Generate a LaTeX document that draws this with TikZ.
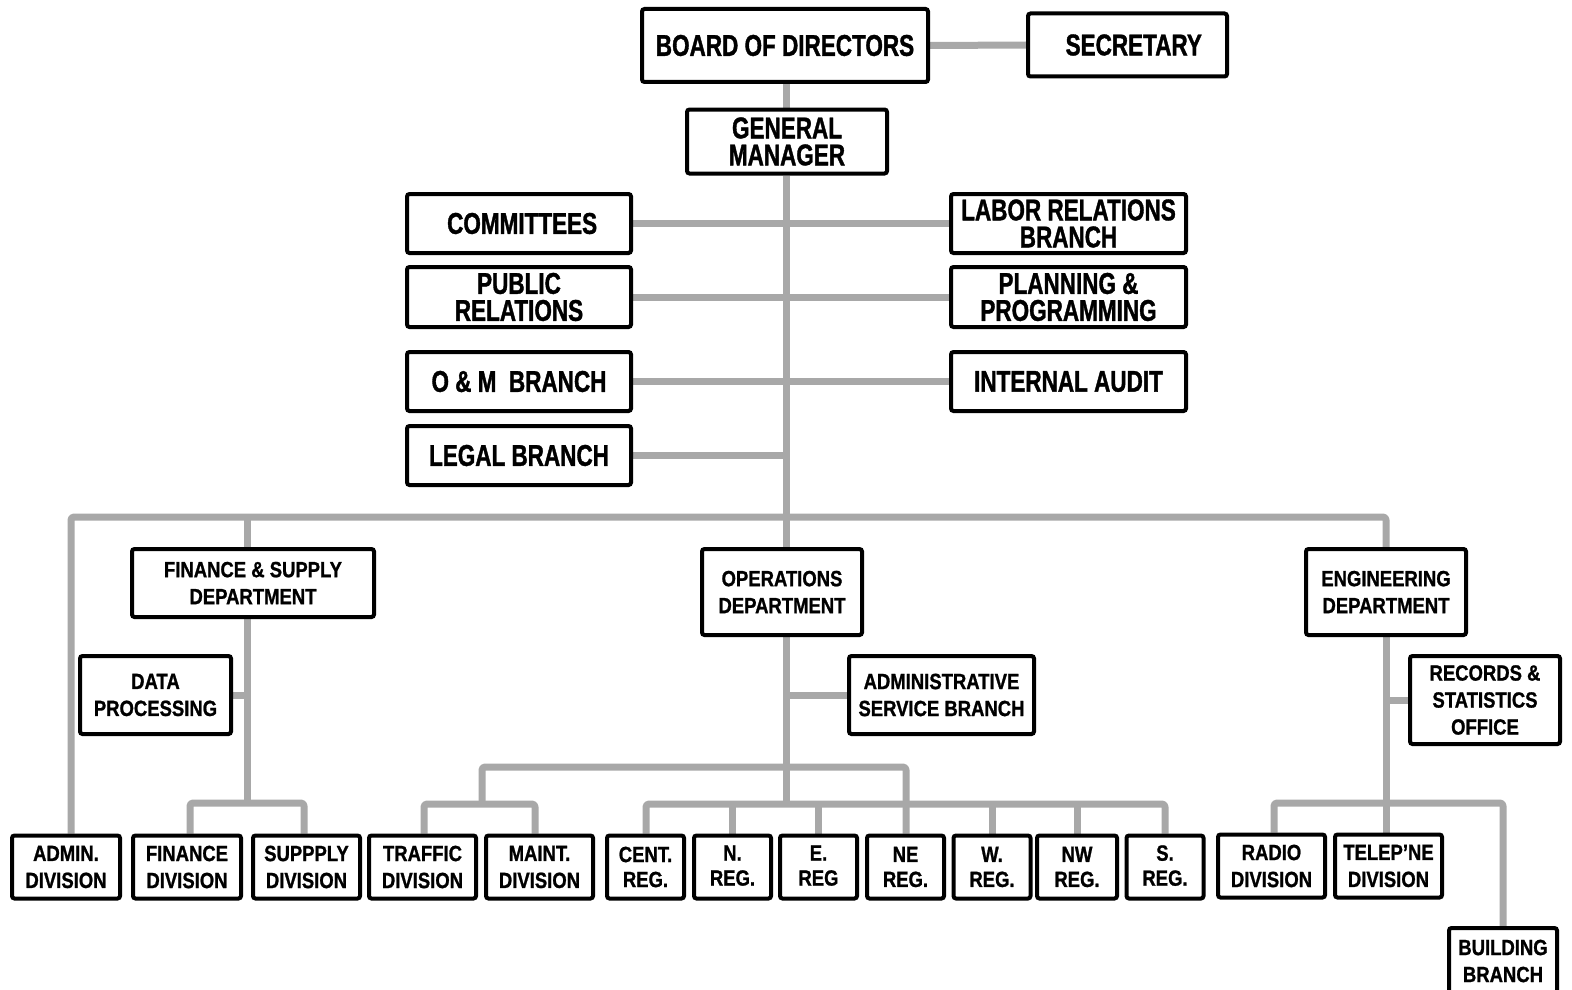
\documentclass[tikz,border=0pt]{standalone}
\usepackage{fontspec}
\usetikzlibrary{backgrounds}
\newfontfamily\bigfont{Liberation Sans}[FakeStretch=0.75, BoldFeatures={FakeBold=1.2}]
\newfontfamily\smallfont{Liberation Sans}[FakeStretch=0.84, BoldFeatures={FakeBold=1.0}]
\definecolor{conncol}{HTML}{A8A8A8}
\begin{document}
\begin{tikzpicture}[x=1pt,y=-1pt,
  box/.style={draw=black, line width=4pt, rounded corners=2.5pt, fill=white, inner sep=0pt, align=center, text=black},
  bigbox/.style={box, font=\bigfont\bfseries\fontsize{30}{27}\selectfont},
  smallbox/.style={box, font=\smallfont\bfseries\fontsize{22}{27}\selectfont},
  regbox/.style={box, font=\smallfont\bfseries\fontsize{22}{25}\selectfont, minimum width=77, minimum height=63},
  divbox/.style={smallbox, minimum width=107, minimum height=63},
  conn/.style={draw=conncol, line width=7pt, line join=round, rounded corners=3pt}]
\useasboundingbox (0,0) rectangle (1572,990);
\clip (0,0) rectangle (1572,990);

% top level
\node[bigbox, minimum width=286, minimum height=73] (bod) at (785,45.5) {BOARD OF DIRECTORS};
\node[bigbox, minimum width=199, minimum height=63] (sec) at (1127.5,45) {\ \ SECRETARY};
\node[bigbox, minimum width=200, minimum height=64] (gm) at (787,141.5) {GENERAL\\MANAGER};

% staff units
\node[bigbox, minimum width=224, minimum height=59] (com) at (519,223.5) {\ COMMITTEES};
\node[bigbox, minimum width=224, minimum height=60] (pr) at (519,297) {PUBLIC\\RELATIONS};
\node[bigbox, minimum width=224, minimum height=59] (om) at (519,381.5) {O \& M\ \ BRANCH};
\node[bigbox, minimum width=224, minimum height=59] (legal) at (519,455.5) {LEGAL BRANCH};
\node[bigbox, minimum width=235, minimum height=59] (labor) at (1068.5,223.5) {LABOR RELATIONS\\BRANCH};
\node[bigbox, minimum width=235, minimum height=60] (plan) at (1068.5,297) {PLANNING \&\\PROGRAMMING};
\node[bigbox, minimum width=235, minimum height=59] (audit) at (1068.5,381.5) {INTERNAL AUDIT};

% departments
\node[smallbox, minimum width=242, minimum height=68] (fin) at (253,583) {FINANCE \& SUPPLY\\DEPARTMENT};
\node[smallbox, minimum width=160, minimum height=86] (ops) at (782,592) {OPERATIONS\\DEPARTMENT};
\node[smallbox, minimum width=160, minimum height=86] (eng) at (1386,592) {ENGINEERING\\DEPARTMENT};
\node[smallbox, minimum width=151, minimum height=78] (data) at (155.5,695) {DATA\\PROCESSING};
\node[smallbox, minimum width=185, minimum height=78] (asb) at (941.5,695) {ADMINISTRATIVE\\SERVICE BRANCH};
\node[smallbox, minimum width=150, minimum height=88] (rec) at (1485,700) {RECORDS \&\\STATISTICS\\OFFICE};

% bottom row
\node[divbox, minimum width=108] (admin) at (66,867) {ADMIN.\\DIVISION};
\node[divbox, minimum width=108] (findiv) at (187,867) {FINANCE\\DIVISION};
\node[divbox] (sup) at (306.5,867) {SUPPPLY\\DIVISION};
\node[divbox] (traffic) at (422.5,867) {TRAFFIC\\DIVISION};
\node[divbox] (maint) at (539.5,867) {MAINT.\\DIVISION};
\node[regbox] (rcent) at (645.5,867) {CENT.\\REG.};
\node[regbox] (rn) at (732.5,867) {N.\\REG.\rule[-3pt]{0pt}{0pt}};
\node[regbox] (re) at (818.5,867) {E.\\REG\rule[-3pt]{0pt}{0pt}};
\node[regbox] (rne) at (905.5,867) {NE\\REG.};
\node[regbox] (rw) at (992,867) {W.\\REG.};
\node[regbox, minimum width=80] (rnw) at (1077,867) {NW\\REG.};
\node[regbox] (rs) at (1165,867) {S.\\REG.\rule[-3pt]{0pt}{0pt}};
\node[divbox] (radio) at (1271.5,866) {RADIO\\DIVISION};
\node[divbox] (tele) at (1388.5,866) {TELEP’NE\\DIVISION};
\node[smallbox, minimum width=108, minimum height=66] (bldg) at (1503,961) {BUILDING\\BRANCH};

% junction coordinates
\coordinate (t0) at (786,517);
\coordinate (busL) at (71,517);
\coordinate (busR) at (1386,517);
\coordinate (fx) at (247,517);
\coordinate (fb) at (247,803);
\coordinate (fbl) at (190,803);
\coordinate (fbr) at (304,803);
\coordinate (ob) at (786,804);
\coordinate (tbl) at (424,804);
\coordinate (tbm) at (482,804);
\coordinate (tbr) at (535,804);
\coordinate (ou1) at (482,767);
\coordinate (ou2) at (906,767);
\coordinate (rbl) at (646,804);
\coordinate (rbr) at (1165,804);
\coordinate (ebl) at (1274,803);
\coordinate (ebr) at (1503,803);

\begin{pgfonlayer}{background}
\draw[conn] (bod.east) -- (sec.west);
\draw[conn] (bod.south -| t0) -- (gm.north -| t0);
\draw[conn] (gm.south -| t0) -- (t0);
\draw[conn] (com.east) -- (labor.west);
\draw[conn] (pr.east) -- (plan.west);
\draw[conn] (om.east) -- (audit.west);
\draw[conn] (legal.east) -- (legal.east -| t0);
\draw[conn] (admin.north -| busL) -- (busL) -- (busR) -- (eng.north -| busR);
\draw[conn] (fx) -- (fin.north -| fx);
\draw[conn] (fin.south -| fx) -- (fb);
\draw[conn] (data.east) -- (data.east -| fx);
\draw[conn] (findiv.north -| fbl) -- (fbl) -- (fbr) -- (sup.north -| fbr);
\draw[conn] (t0) -- (ops.north -| t0);
\draw[conn] (ops.south -| t0) -- (ob);
\draw[conn] (asb.west) -- (asb.west -| t0);
\draw[conn] (traffic.north -| tbl) -- (tbl) -- (tbr) -- (maint.north -| tbr);
\draw[conn] (tbm) -- (ou1) -- (ou2) -- (rne.north -| ou2);
\draw[conn] (rcent.north -| rbl) -- (rbl) -- (rbr) -- (rs.north -| rbr);
\draw[conn] (rn.north) -- (rn.north |- rbl);
\draw[conn] (re.north) -- (re.north |- rbl);
\draw[conn] (rw.north) -- (rw.north |- rbl);
\draw[conn] (rnw.north) -- (rnw.north |- rbl);
\draw[conn] (eng.south -| busR) -- (tele.north -| busR);
\draw[conn] (rec.west) -- (rec.west -| busR);
\draw[conn] (radio.north -| ebl) -- (ebl) -- (ebr) -- (bldg.north -| ebr);
\end{pgfonlayer}
\end{tikzpicture}
\end{document}
